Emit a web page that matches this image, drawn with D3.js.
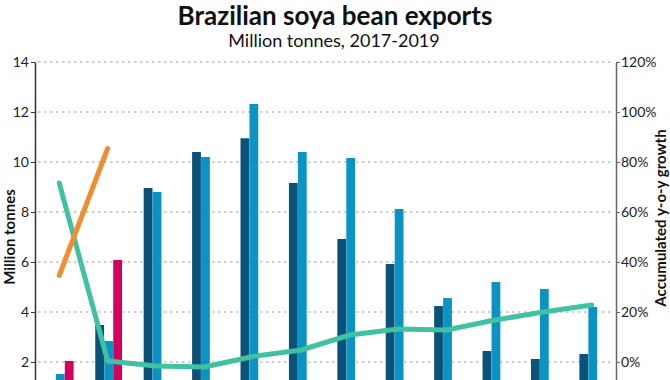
<!DOCTYPE html>
<html>
<head>
<meta charset="utf-8">
<script src="https://cdn.jsdelivr.net/npm/d3@7"></script>
<style>
  html, body { margin: 0; padding: 0; background: #fff; overflow: hidden; }
  text { font-family: Lato, "Open Sans", sans-serif; }
</style>
</head>
<body>
<svg id="chart" width="670" height="380"></svg>
<script>
const months = ["Jan","Feb","Mar","Apr","May","Jun","Jul","Aug","Sep","Oct","Nov","Dec"];
const years = ["2017","2018","2019"];
const exports2017 = [1.1, 3.48, 8.96, 10.4, 10.95, 9.16, 6.92, 5.92, 4.24, 2.44, 2.12, 2.32];
const exports2018 = [1.52, 2.84, 8.8, 10.2, 12.32, 10.4, 10.16, 8.12, 4.56, 5.2, 4.92, 4.2];
const exports2019 = [2.04, 6.08, null, null, null, null, null, null, null, null, null, null];
const growth2018 = [71.6, 0.4, -1.6, -2.0, 2.2, 4.8, 10.8, 13.2, 12.8, 16.8, 20.0, 22.8];
const growth2019 = [34.6, 85.4];
const leftTicks = [2, 4, 6, 8, 10, 12, 14];
const rightTicks = [0, 20, 40, 60, 80, 100, 120];

const barColors = ["#0b5278", "#0a93c3", "#d3005e"];
const lineColors = { g2018: "#40c2a2", g2019: "#f28c30" };

const svg = d3.select("#chart");
const pLeft = 35, pRight = 616, pTop = 62, pBottom = 412;

const y = d3.scaleLinear().domain([0, 14]).range([pBottom, pTop]);
const y2 = d3.scaleLinear().domain([-20, 120]).range([pBottom, pTop]);
const x0 = d3.scaleBand().domain(months).range([pLeft + 2, pRight]).paddingInner(0.44).paddingOuter(0.2);
const x1 = d3.scaleBand().domain(years).range([0, x0.bandwidth()]).padding(0.02);

// title
svg.append("text").attr("x", 335).attr("y", 25).attr("text-anchor", "middle")
  .attr("font-size", 26).attr("font-weight", 700).attr("fill", "#111")
  .text("Brazilian soya bean exports");
svg.append("text").attr("x", 334).attr("y", 47).attr("text-anchor", "middle")
  .attr("font-size", 18).attr("fill", "#111")
  .text("Million tonnes, 2017-2019");

// gridlines
svg.append("g").selectAll("line").data(leftTicks).join("line")
  .attr("x1", pLeft + 3).attr("x2", pRight - 2)
  .attr("y1", d => y(d)).attr("y2", d => y(d))
  .attr("stroke", "#bdbdbd").attr("stroke-width", 1.5).attr("stroke-dasharray", "2.5,3.5");

// bars
const seriesData = [exports2017, exports2018, exports2019];
const barsG = svg.append("g");
years.forEach((yr, si) => {
  barsG.append("g").selectAll("rect")
    .data(months.map((m, i) => ({ m, v: seriesData[si][i] })).filter(d => d.v != null))
    .join("rect")
    .attr("x", d => x0(d.m) + x1(yr))
    .attr("width", x1.bandwidth())
    .attr("y", d => y(d.v))
    .attr("height", d => y(0) - y(d.v))
    .attr("fill", barColors[si]);
});

// lines
const cx = m => x0(m) + x0.bandwidth() / 2 - 1;
const line = d3.line().x(d => cx(d.m)).y(d => y2(d.v));
svg.append("path")
  .datum(growth2018.map((v, i) => ({ m: months[i], v })))
  .attr("d", line).attr("fill", "none").attr("stroke", lineColors.g2018)
  .attr("stroke-width", 5).attr("stroke-linecap", "round").attr("stroke-linejoin", "round");
svg.append("path")
  .datum(growth2019.map((v, i) => ({ m: months[i], v })))
  .attr("d", line).attr("fill", "none").attr("stroke", lineColors.g2019)
  .attr("stroke-width", 5).attr("stroke-linecap", "round").attr("stroke-linejoin", "round");

// axes
const axL = svg.append("g").attr("transform", `translate(${pLeft},0)`)
  .call(d3.axisLeft(y).tickValues(leftTicks).tickSize(4).tickPadding(2).tickSizeOuter(0));
axL.select(".domain").attr("stroke", "#333").attr("stroke-width", 1.5);
axL.selectAll(".tick line").attr("stroke", "#333");
axL.selectAll("text").attr("font-size", 14).attr("fill", "#222").attr("font-family", "Lato, sans-serif");

const axR = svg.append("g").attr("transform", `translate(${pRight},0)`)
  .call(d3.axisRight(y2).tickValues(rightTicks).tickFormat(d => d + "%").tickSize(4).tickPadding(1).tickSizeOuter(0));
axR.select(".domain").attr("stroke", "#666").attr("stroke-width", 1.5);
axR.selectAll(".tick line").attr("stroke", "#666");
axR.selectAll("text").attr("font-size", 14).attr("fill", "#222").attr("font-family", "Lato, sans-serif");

// axis titles
svg.append("text").attr("transform", "translate(15,237) rotate(-90)")
  .attr("text-anchor", "middle").attr("font-size", 15).attr("font-weight", 700).attr("fill", "#111")
  .text("Million tonnes");
svg.append("text").attr("transform", "translate(666,218) rotate(-90)")
  .attr("text-anchor", "middle").attr("font-size", 15).attr("font-weight", 700).attr("fill", "#111")
  .text("Accumulated y-o-y growth");
</script>
</body>
</html>
